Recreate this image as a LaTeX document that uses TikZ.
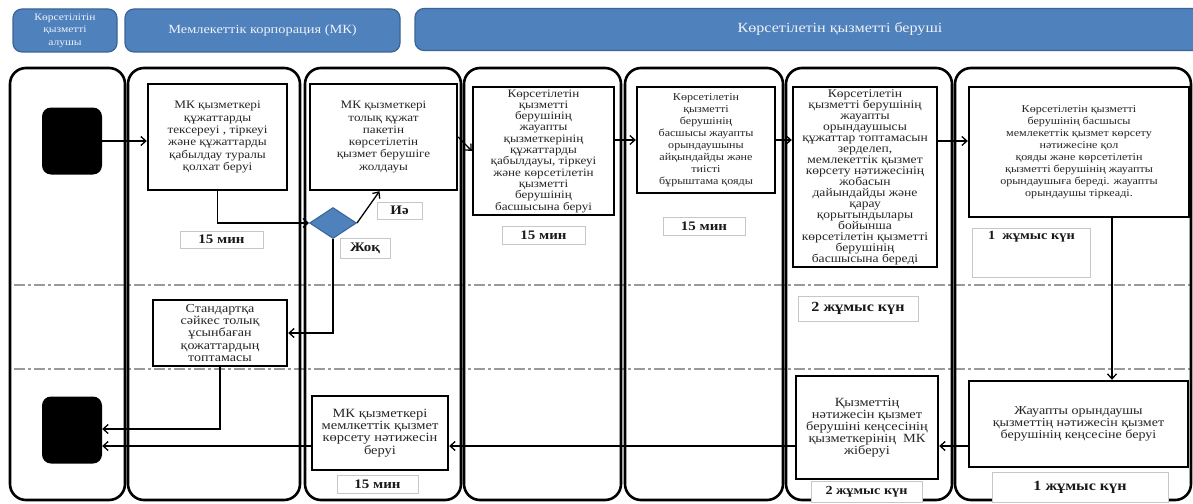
\documentclass[tikz,border=0pt]{standalone}
\usepackage{fontspec}
\setmainfont[FakeStretch=1.15]{Liberation Serif}
\usetikzlibrary{arrows.meta,shapes.geometric}
\definecolor{hdrblue}{HTML}{4F81BD}
\definecolor{hdredge}{HTML}{3A6496}
\definecolor{hdrtext}{HTML}{EEF2F8}
\definecolor{dashgray}{HTML}{9A9A9A}
\newcommand{\fs}[2]{\fontsize{#1}{#2}\selectfont}
\begin{document}
\begin{tikzpicture}[x=1pt,y=-1pt,
  lane/.style={draw=black,line width=2.6pt,rounded corners=16pt},
  proc/.style={draw=black,line width=2.4pt,fill=white,align=center,inner sep=1.5pt,text=black!85,font=\fs{11.5}{12.2}},
  lbl/.style={draw=black!22,line width=0.9pt,fill=white,inner sep=2pt,text=black!90,font=\bfseries\fs{13}{14}},
  hdr/.style={draw=hdredge,line width=1.2pt,fill=hdrblue,rounded corners=9pt,text=hdrtext,align=center},
  term/.style={fill=black,rounded corners=9pt,minimum width=60pt,minimum height=67pt,inner sep=0pt},
  arr/.style={draw=black,line width=1.3pt,-{Straight Barb[length=5pt,width=9pt]}},
  sep/.style={draw=dashgray,line width=1.3pt,dash pattern=on 11pt off 3pt on 3pt off 3pt}]

\clip (0,0) rectangle (1193,503);
\fill[white] (0,0) rectangle (1193,503);

% headers
\node[hdr,minimum width=104pt,minimum height=43pt,font=\fs{10}{12.5}] (h1) at (65,30.5) {Көрсетілітін\\қызметті\\алушы};
\node[hdr,minimum width=275pt,minimum height=43pt,font=\fs{12.5}{14}] (h2) at (262.5,30.5) {Мемлекеттік корпорация (МК)};
\node[hdr,minimum width=850pt,minimum height=42pt,font=\fs{14}{16}] (h3) at (840,29.5) {Көрсетілетін қызметті беруші};

% separators
\draw[sep] (14,285) -- (1193,285);
\draw[sep] (14,369) -- (1193,369);

% lanes
\draw[lane] (10,68) rectangle (125,500);
\draw[lane] (128,68) rectangle (300,500);
\draw[lane] (305,68) rectangle (461,500);
\draw[lane] (464,68) rectangle (621,500);
\draw[lane] (625,68) rectangle (783,500);
\draw[lane] (786,68) rectangle (952,500);
\draw[lane] (955,68) rectangle (1191,500);

% terminals
\node[term] (start) at (72,141) {};
\node[term] (end) at (72,430) {};

% process boxes
\node[proc,minimum width=139pt,minimum height=106pt,font=\fs{11.5}{12.3}] (A) at (217.5,137) {МК қызметкері\\құжаттарды\\тексереуі , тіркеуі\\және құжаттарды\\қабылдау туралы\\қолхат беруі};
\node[proc,minimum width=147pt,minimum height=106pt,font=\fs{11.4}{12.3}] (B) at (383.5,137) {МК қызметкері\\толық құжат\\пакетін\\көрсетілетін\\қызмет берушіге\\жолдауы};
\node[proc,minimum width=141pt,minimum height=128pt,inner sep=0pt,font=\fs{11.4}{11.3}] (P4) at (543.5,151) {Көрсетілетін\\қызметті\\берушінің\\жауапты\\қызметкерінің\\құжаттарды\\қабылдауы, тіркеуі\\және көрсетілетін\\қызметті\\берушінің\\басшысына беруі};
\node[proc,minimum width=138pt,minimum height=106pt,font=\fs{10.5}{12}] (G) at (706,140) {Көрсетілетін\\қызметті\\берушінің\\басшысы жауапты\\орындаушыны\\айқындайды және\\тиісті\\бұрыштама қояды};
\node[proc,minimum width=144pt,minimum height=180pt,inner sep=0pt,font=\fs{11.8}{11}] (H) at (865,177) {Көрсетілетін\\қызметті берушінің\\жауапты\\орындаушысы\\құжаттар топтамасын\\зерделеп,\\мемлекеттік қызмет\\көрсету нәтижесінің\\жобасын\\дайындайды және\\қарау\\қорытындылары\\бойынша\\көрсетілетін қызметті\\берушінің\\басшысына береді};
\node[proc,minimum width=220pt,minimum height=130pt,font=\fs{10.5}{12}] (I) at (1079,152) {Көрсетілетін қызметті\\берушінің басшысы\\мемлекеттік қызмет көрсету\\нәтижесіне қол\\қояды және көрсетілетін\\қызметті берушінің жауапты\\орындаушыға береді. жауапты\\орындаушы тіркеаді.};
\node[proc,minimum width=134pt,minimum height=66pt,inner sep=0pt,font=\fs{12.2}{12.3}] (C) at (220,333) {Стандартқа\\сәйкес толық\\ұсынбаған\\қожаттардың\\топтамасы};
\node[proc,minimum width=136pt,minimum height=74pt,font=\fs{12.6}{12.3}] (D) at (380,433) {МК қызметкері\\мемлкеттік қызмет\\көрсету нәтижесін\\беруі};
\node[proc,minimum width=142pt,minimum height=103pt,font=\fs{12.5}{12.1}] (E) at (867,427.5) {Қызметтің\\нәтижесін қызмет\\берушіні кеңсесінің\\қызметкерінің\ \ МК\\жіберуі};
\node[proc,minimum width=219pt,minimum height=86pt,font=\fs{12.2}{11.8}] (F) at (1078.5,424) {Жауапты орындаушы\\қызметтің нәтижесін қызмет\\берушінің кеңсесіне беруі};

% decision
\node[diamond,draw=hdredge,fill=hdrblue,line width=1pt,aspect=1.5,minimum width=47pt,minimum height=31pt,inner sep=0pt] (dia) at (333,223) {};

% labels
\node[lbl,minimum width=83pt,minimum height=17pt] (t1) at (221.5,239.5) {15 мин};
\node[lbl,minimum width=45pt,minimum height=17pt] (yes) at (399.5,210.5) {Иә};
\node[lbl,minimum width=50pt,minimum height=20pt] (no) at (365,248) {Жоқ};
\node[lbl,minimum width=83pt,minimum height=18pt] (t4) at (543.5,235) {15 мин};
\node[lbl,minimum width=82pt,minimum height=18pt] (t5) at (704,226) {15 мин};
\node[lbl,minimum width=118pt,text height=9pt,text depth=36pt,anchor=north west,font=\bfseries\fs{12.5}{14}] (t6) at (972,228) {1\ \ жұмыс күн};
\node[lbl,minimum width=120pt,minimum height=25pt,font=\bfseries\fs{14}{15}] (t7) at (858,308.5) {2 жұмыс күн};
\node[lbl,minimum width=81pt,minimum height=18pt] (t8) at (377.5,484) {15 мин};
\node[lbl,minimum width=111pt,minimum height=21pt,font=\bfseries\fs{12.3}{14}] (t9) at (866.5,491.5) {2 жұмыс күн};
\node[lbl,minimum width=176pt,minimum height=30pt,font=\bfseries\fs{14}{15}] (t10) at (1080,487) {1 жұмыс күн};

% helper coordinates
\coordinate (r1) at (0,446);
\coordinate (r2) at (0,141);
\coordinate (v) at (1112,0);

% connectors
\draw[arr] (start.east |- r2) -- (A.west |- r2);
\draw[arr] (A.south) |- (dia.west);
\draw[arr] (dia.east) -- ([xshift=-4pt]B.south);
\draw[arr] (dia.south) |- (C.east);
\draw[arr] (C.south) |- ([yshift=1pt]end.east);
\draw[arr] (D.west |- r1) -- (end.east |- r1);
\draw[arr] (E.west |- r1) -- (D.east |- r1);
\draw[arr] (F.west |- r1) -- (E.east |- r1);
\draw[arr] (B.east) -- (P4.west);
\draw[arr] (P4.east |- G.west) -- (G.west);
\draw[arr] (G.east) -- (G.east -| H.west);
\draw[arr] (H.east |- r2) -- (I.west |- r2);
\draw[arr] (I.south -| v) -- (F.north -| v);
\end{tikzpicture}
\end{document}
